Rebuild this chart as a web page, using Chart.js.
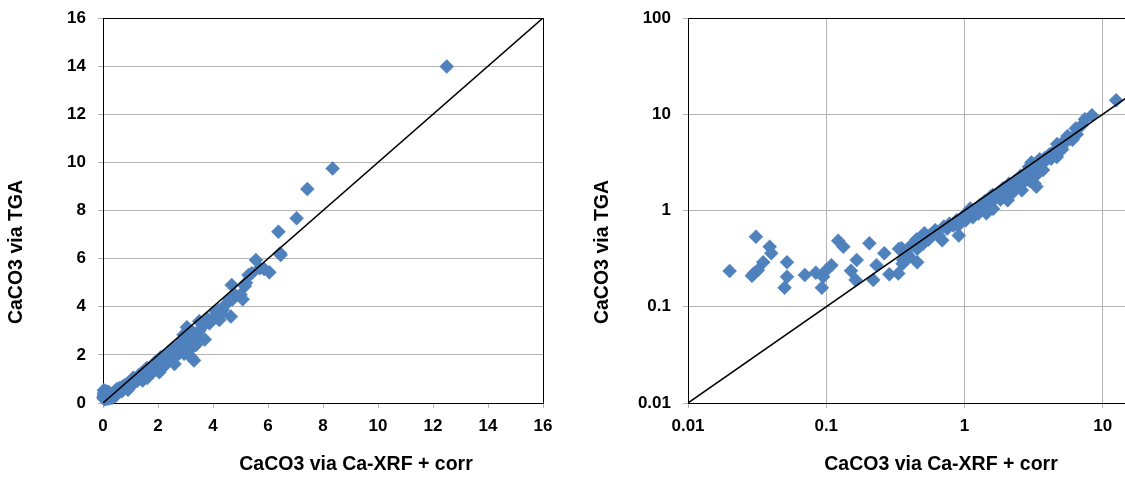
<!DOCTYPE html>
<html>
<head>
<meta charset="utf-8">
<script src="https://cdn.jsdelivr.net/npm/chart.js@4.4.0/dist/chart.umd.min.js"></script>
<style>
  html, body { margin: 0; padding: 0; background: #fff; overflow: hidden; width: 1125px; height: 477px; }
  #left-chart { position: absolute; left: 0; top: 0; }
  #right-chart { position: absolute; left: 560px; top: 0; }
</style>
</head>
<body>
<canvas id="left-chart" width="560" height="477"></canvas>
<canvas id="right-chart" width="720" height="477"></canvas>
<script>
// Data: CaCO3 via Ca-XRF + corr (x) vs CaCO3 via TGA (y)
const xrfValues = [
  0.020, 0.031, 0.039, 0.040, 0.035, 0.030, 0.029, 0.032, 0.052, 0.052,
  0.050, 0.070, 0.084, 0.095, 0.093, 0.109, 0.100, 0.122, 0.133, 0.166,
  0.151, 0.163, 0.205, 0.263, 0.231, 0.219, 0.286, 0.332, 0.351, 0.360,
  0.336, 0.357, 0.380, 0.416, 0.455, 0.455, 0.483, 0.513, 0.400, 0.450,
  0.500, 0.550, 0.560, 0.600, 0.615, 0.650, 0.690, 0.710, 0.750, 0.780,
  0.830, 0.850, 0.880, 0.900, 0.910, 0.950, 0.990, 1.00, 1.02, 1.08,
  1.10, 1.15, 1.16, 1.22, 1.26, 1.30, 1.32, 1.38, 1.40, 1.44,
  1.50, 1.52, 1.55, 1.60, 1.61, 1.68, 1.70, 1.76, 1.82, 1.90,
  1.93, 2.00, 2.01, 2.05, 2.10, 2.12, 2.17, 2.20, 2.25, 2.30,
  2.38, 2.40, 2.45, 2.50, 2.55, 2.60, 2.65, 2.70, 2.76, 2.80,
  2.85, 2.88, 2.93, 2.95, 2.97, 3.00, 3.05, 3.10, 3.15, 3.20,
  3.21, 3.25, 3.30, 3.31, 3.35, 3.38, 3.41, 3.50, 3.50, 3.62,
  3.70, 3.73, 3.80, 3.87, 4.00, 4.10, 4.20, 4.23, 4.30, 4.35,
  4.47, 4.60, 4.65, 4.68, 4.71, 4.80, 5.00, 5.08, 5.16, 5.20,
  5.29, 5.41, 5.56, 5.70, 5.86, 6.05, 6.38, 6.44, 6.46, 7.04,
  7.43, 8.35, 12.5
];
const tgaValues = [
  0.235, 0.535, 0.42, 0.36, 0.29, 0.222, 0.21, 0.24, 0.29, 0.205,
  0.158, 0.214, 0.226, 0.205, 0.158, 0.27, 0.24, 0.486, 0.42, 0.306,
  0.237, 0.19, 0.456, 0.36, 0.27, 0.19, 0.217, 0.222, 0.405, 0.306,
  0.40, 0.28, 0.36, 0.44, 0.29, 0.40, 0.53, 0.58, 0.33, 0.50,
  0.45, 0.50, 0.55, 0.60, 0.625, 0.55, 0.49, 0.68, 0.65, 0.73,
  0.70, 0.75, 0.79, 0.70, 0.55, 0.82, 0.86, 0.90, 0.79, 0.90,
  1.05, 0.85, 1.00, 0.95, 0.93, 1.15, 1.05, 1.09, 1.25, 0.935,
  1.20, 1.18, 1.40, 1.45, 1.04, 1.35, 1.45, 1.50, 1.30, 1.70,
  1.39, 1.55, 1.57, 1.28, 1.90, 1.70, 1.62, 1.50, 1.80, 2.00,
  1.76, 1.90, 2.05, 1.84, 2.30, 1.62, 2.20, 2.00, 2.42, 2.10,
  2.30, 2.60, 2.84, 2.05, 2.24, 2.50, 3.15, 2.60, 2.20, 3.00,
  1.90, 2.70, 2.90, 1.77, 2.80, 2.41, 2.60, 3.00, 3.40, 3.24,
  2.64, 3.30, 3.50, 3.31, 3.50, 3.80, 3.85, 3.45, 3.70, 3.87,
  4.10, 4.30, 3.59, 4.90, 4.31, 4.50, 4.50, 4.31, 4.86, 5.00,
  5.32, 5.39, 5.94, 5.60, 5.57, 5.43, 7.12, 6.22, 6.15, 7.68,
  8.89, 9.75, 13.98
];

// 1:1 reference line ends
const diagLinear = [0, 16];
const diagLog = [0.01, 100];

// Tick values
const logTicksY = [0.01, 0.1, 1, 10, 100];
const logTicksX = [0.01, 0.1, 1, 10];

const points = xrfValues.map((x, i) => ({ x: x, y: tgaValues[i] }));

const markerColor = '#4F81BD';
const gridColor = '#b4b4b4';
const xTitle = 'CaCO3 via Ca-XRF + corr';
const yTitle = 'CaCO3 via TGA';

Chart.defaults.font.family = '"Liberation Sans", Arial, sans-serif';
Chart.defaults.font.weight = 'bold';
Chart.defaults.color = '#000';

// Black box round the plot area
const plotFrame = {
  id: 'plotFrame',
  beforeDatasetsDraw(chart) {
    const a = chart.chartArea;
    const ctx = chart.ctx;
    ctx.save();
    ctx.strokeStyle = '#000';
    ctx.lineWidth = 1;
    ctx.strokeRect(Math.round(a.left) + 0.5, Math.round(a.top) + 0.5,
      Math.round(a.right - a.left), Math.round(a.bottom - a.top));
    ctx.restore();
  }
};

// Axis titles sit off-centre in the original, so place them by hand
const axisTitles = {
  id: 'axisTitles',
  afterDraw(chart, args, opts) {
    const ctx = chart.ctx;
    ctx.save();
    ctx.fillStyle = '#000';
    ctx.font = 'bold 19.5px "Liberation Sans", Arial, sans-serif';
    ctx.textAlign = 'center';
    ctx.textBaseline = 'middle';
    ctx.fillText(xTitle, opts.xAt[0], opts.xAt[1]);
    ctx.translate(opts.yAt[0], opts.yAt[1]);
    ctx.rotate(-Math.PI / 2);
    ctx.fillText(yTitle, 0, 0);
    ctx.restore();
  }
};

function makeDatasets(diag) {
  return [
    {
      label: '1:1',
      data: diag.map(v => ({ x: v, y: v })),
      showLine: true,
      borderColor: '#000',
      borderWidth: 1.5,
      pointRadius: 0,
      order: 0
    },
    {
      label: 'CaCO3',
      data: points,
      pointStyle: 'rectRot',
      pointRadius: 7,
      backgroundColor: markerColor,
      borderColor: markerColor,
      borderWidth: 0.5,
      clip: false,
      order: 1
    }
  ];
}

function baseOptions(titlePos) {
  return {
    responsive: false,
    animation: false,
    events: [],
    plugins: {
      legend: { display: false },
      tooltip: { enabled: false },
      axisTitles: titlePos
    }
  };
}

const tickFont = { size: 17, weight: 'bold' };

// fixed axis boxes so the plot area lands where it is in the original
function fitX(s) { s.height = 74; s.paddingLeft = 0; s.paddingRight = 0; }
function fitY(s) { s.width = 103; s.paddingTop = 0; s.paddingBottom = 0; }

// Left chart: linear
new Chart(document.getElementById('left-chart'), {
  type: 'scatter',
  data: { datasets: makeDatasets(diagLinear) },
  options: {
    ...baseOptions({ xAt: [356, 465], yAt: [17, 252] }),
    layout: { padding: { left: 0, top: 18, right: 17, bottom: 0 } },
    scales: {
      x: {
        type: 'linear', min: 0, max: 16,
        ticks: { stepSize: 2, padding: 8, color: '#000', font: tickFont, maxRotation: 0 },
        grid: { drawOnChartArea: false, tickLength: 5, color: gridColor },
        border: { color: '#000', width: 1 },
        afterFit: fitX
      },
      y: {
        type: 'linear', min: 0, max: 16,
        ticks: { stepSize: 2, padding: 12, color: '#000', font: tickFont },
        grid: { tickLength: 5, color: gridColor },
        border: { color: '#000', width: 1 },
        afterFit: fitY
      }
    }
  },
  plugins: [plotFrame, axisTitles]
});

// Right chart: log-log
new Chart(document.getElementById('right-chart'), {
  type: 'scatter',
  data: { datasets: makeDatasets(diagLog) },
  options: {
    ...baseOptions({ xAt: [381, 465], yAt: [43, 252] }),
    layout: { padding: { left: 25, top: 18, right: 39, bottom: 0 } },
    scales: {
      x: {
        type: 'logarithmic', min: 0.01, max: 100,
        afterBuildTicks(s) { s.ticks = logTicksX.map(v => ({ value: v })); },
        ticks: { padding: 8, color: '#000', font: tickFont, maxRotation: 0, callback: v => String(v) },
        grid: { tickLength: 5, color: gridColor },
        border: { color: '#000', width: 1 },
        afterFit: fitX
      },
      y: {
        type: 'logarithmic', min: 0.01, max: 100,
        afterBuildTicks(s) { s.ticks = logTicksY.map(v => ({ value: v })); },
        ticks: { padding: 12, color: '#000', font: tickFont, callback: v => String(v) },
        grid: { tickLength: 5, color: gridColor },
        border: { color: '#000', width: 1 },
        afterFit: fitY
      }
    }
  },
  plugins: [plotFrame, axisTitles]
});
</script>
</body>
</html>
